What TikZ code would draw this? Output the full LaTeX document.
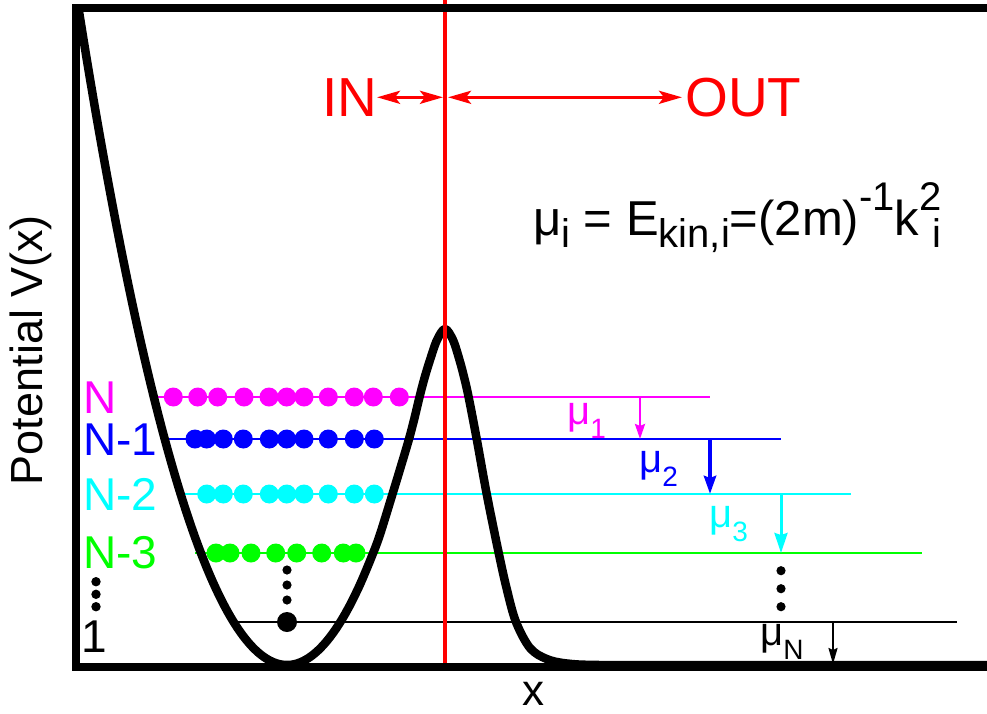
\documentclass[tikz,border=0pt]{standalone}
\usepackage{fontspec}
\setmainfont{Liberation Sans}
\usetikzlibrary{arrows.meta}
\definecolor{mag}{RGB}{255,0,255}
\definecolor{blu}{RGB}{0,0,255}
\definecolor{cya}{RGB}{0,255,255}
\definecolor{gre}{RGB}{0,255,0}
\definecolor{redl}{RGB}{255,0,0}
\newcommand\fsz[1]{\fontsize{#1}{#1}\selectfont}
\newcommand\fsup[1]{\raisebox{25pt}{\fsz{40}#1}}
\newcommand\fsub[1]{\raisebox{-12pt}{\fsz{40}#1}}
\newcommand\msub[1]{\raisebox{-14pt}{\fsz{28}#1}}
\begin{document}
\begin{tikzpicture}[x=1pt,y=-1pt,
  lab/.style={inner sep=0pt, anchor=base west, font=\fsz{46}},
  mulab/.style={inner sep=0pt, anchor=base west, font=\fsz{40}},
  redarr/.style={redl, line width=3.5pt, {Stealth[length=23pt,width=13pt,inset=5pt]}-{Stealth[length=23pt,width=13pt,inset=5pt]}},
  lev/.style={line width=2.6pt},
]
\useasboundingbox (0,0) rectangle (987,713);
% level lines
\coordinate (NL) at (152,397); \coordinate (NR) at (710,397);
\coordinate (N1L) at (163,439); \coordinate (N1R) at (781,439);
\coordinate (N2L) at (182,494); \coordinate (N2R) at (851,494);
\coordinate (N3L) at (195,553); \coordinate (N3R) at (922,553);
\coordinate (L1L) at (236,622); \coordinate (L1R) at (957,622);
\draw[lev, mag] (NL) -- (NR);
\draw[lev, blu] (N1L) -- (N1R);
\draw[lev, cya] (N2L) -- (N2R);
\draw[lev, gre] (N3L) -- (N3R);
\draw[lev, black, line width=2.2pt] (L1L) -- (L1R);
% particles
\foreach \x in {173.3,197.7,217.7,244,269,286.7,304,328.3,354.3,373.3,399.3}
  \fill[mag] (\x,397) circle (9.5pt);
\foreach \x in {195,206.7,223.3,243.3,269.3,286.7,304,328.3,354.3,374.3}
  \fill[blu] (\x,439) circle (9.5pt);
\foreach \x in {206.7,223.3,243.3,269.3,286.7,304,328.3,354.3,374.3}
  \fill[cya] (\x,494) circle (9.5pt);
\foreach \x in {216,230,251,275.7,296.7,321.7,343.3,356}
  \fill[gre] (\x,553) circle (9.5pt);
\fill (287,622) circle (10pt);
\foreach \y in {570,585,600} \fill (287,\y) circle (4.6pt);
\foreach \y in {581.7,594.3,606.7} \fill (96,\y) circle (4.7pt);
\foreach \y in {570.7,588.7,606.7} \fill (781,\y) circle (4.6pt);
% potential curve: parabolic well, then barrier
\draw[line width=8.5pt, line join=round]
  plot[domain=78:345, samples=90] (\x, {665-0.0151*(\x-287)*(\x-287)})
  -- plot[smooth, tension=0.55] coordinates {
 (350,605.1) (360,584.5) (372,555.9) (380,534.4) (392.5,494) (401,466) (409,439)
 (414.5,418) (419.5,397) (424.5,378) (430,360) (437,340) (445,329)
 (453,340) (459.5,360) (464.3,378) (468.6,397) (476.7,439) (486.7,494) (498.7,553)
 (507,590) (516,622) (530,648) (546.7,659) (567,663.5) (600,665) (700,665) (990,665)};
% red divider
\coordinate (RT) at (445,0); \coordinate (RB) at (445,665);
\draw[redl, line width=4pt] (RT) -- (RB);
% frame
\draw[line width=8pt] (995,7.5) -- (75.5,7.5) -- (75.5,666.5) -- (995,666.5);
% IN / OUT
\node[inner sep=0pt, anchor=base west, font=\fsz{55}, text=redl] (in) at (322,116) {IN};
\node[inner sep=0pt, anchor=base west, font=\fsz{55}, text=redl] (out) at (685,116) {OUT};
\coordinate (inA) at (377,97.3); \coordinate (inB) at (443,97.3);
\coordinate (outA) at (448,97.3); \coordinate (outB) at (682,97.3);
\draw[redarr] (inA) -- (inB);
\draw[redarr] (outA) -- (outB);
% formula
\node[inner sep=0pt, anchor=base west, font=\fsz{49}] (formula) at (533,235)
  {μ\fsub{i} = E\fsub{kin,i}=(2m)\fsup{-1}k\fsup{2}\llap{\fsub{i}}};
% level labels
\node[lab, text=mag] (labN) at (83,413) {N};
\node[lab, text=blu] (labN1) at (83,455) {N-1};
\node[lab, text=cya] (labN2) at (83,510) {N-2};
\node[lab, text=gre] (labN3) at (83,568) {N-3};
\node[lab, text=black] (lab1) at (81,652) {1};
% mu arrows
\coordinate (a1s) at (640,397); \coordinate (a1e) at (640,439);
\coordinate (a2s) at (710,439); \coordinate (a2e) at (710,494);
\coordinate (a3s) at (781,494); \coordinate (a3e) at (781,553);
\coordinate (aNs) at (833,622); \coordinate (aNe) at (833,664);
\draw[mag, line width=2.5pt, -{Stealth[length=15pt,width=10pt,inset=2pt]}] (a1s) -- (a1e);
\draw[blu, line width=4pt, -{Stealth[length=18pt,width=12pt,inset=2pt]}] (a2s) -- (a2e);
\draw[cya, line width=3pt, -{Stealth[length=20pt,width=13pt,inset=2pt]}] (a3s) -- (a3e);
\draw[black, line width=2pt, -{Stealth[length=16pt,width=9pt,inset=2pt]}] (aNs) -- (aNe);
\node[mulab, text=mag] (mu1) at (567,424) {μ\msub{1}};
\node[mulab, text=blu] (mu2) at (639,472) {μ\msub{2}};
\node[mulab, text=cya] (mu3) at (709,527) {μ\msub{3}};
\node[mulab, text=black] (muN) at (760,645) {μ\msub{N}};
% axis labels
\node[rotate=90, anchor=base, inner sep=0pt, font=\fsz{45}] (ylab) at (42,350) {Potential V(x)};
\node[anchor=base, inner sep=0pt, font=\fsz{44}] (xlab) at (533,705) {x};
\end{tikzpicture}
\end{document}
